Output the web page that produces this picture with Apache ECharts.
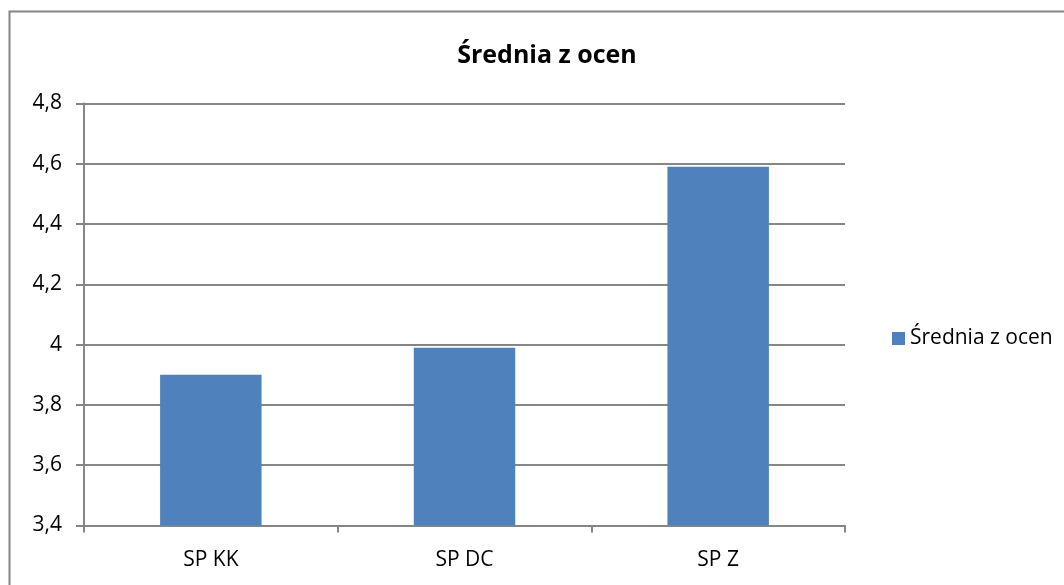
<!DOCTYPE html>
<html>
<head>
<meta charset="utf-8">
<script src="https://cdn.jsdelivr.net/npm/echarts@6/dist/echarts.min.js"></script>
<style>
  html, body { margin: 0; padding: 0; background: #fff; }
  #chart { width: 1064px; height: 585px; }
</style>
</head>
<body>
<div id="chart"></div>
<script>
// dane wykresu
var categories = ['SP KK', 'SP DC', 'SP Z'];
var seriesName = 'Średnia z ocen';
var averages = [3.90, 3.99, 4.59];
var yTicks = { min: 3.4, max: 4.8, step: 0.2 };

var font = '"Open Sans", sans-serif';
var gray = '#868686';

var chart = echarts.init(document.getElementById('chart'));
chart.setOption({
  animation: false,
  graphic: [{
    type: 'rect',
    shape: { x: 9.5, y: 11.5, width: 1100, height: 700 },
    style: { fill: 'none', stroke: gray, lineWidth: 2 },
    silent: true
  }],
  title: {
    text: seriesName,
    left: 542,
    top: 38,
    textAlign: 'center',
    textStyle: { fontFamily: font, fontSize: 25, fontWeight: 'bold', color: '#000' }
  },
  legend: {
    left: 887,
    top: 323,
    itemWidth: 13,
    itemHeight: 13,
    itemGap: 7,
    icon: 'rect',
    textStyle: { fontFamily: font, fontSize: 21, color: '#000' },
    data: [seriesName]
  },
  grid: { left: 84, right: 219, top: 103.5, bottom: 59.5 },
  xAxis: {
    type: 'category',
    data: categories,
    axisLine: { lineStyle: { color: gray, width: 2 } },
    axisTick: { show: true, alignWithLabel: false, length: 7, lineStyle: { color: gray, width: 2 } },
    axisLabel: { margin: 24, fontFamily: font, fontSize: 21, color: '#000' },
    splitLine: { show: false }
  },
  yAxis: {
    type: 'value',
    min: yTicks.min,
    max: yTicks.max,
    interval: yTicks.step,
    axisLine: { show: true, lineStyle: { color: gray, width: 2 } },
    axisTick: { show: true, length: 8, lineStyle: { color: gray, width: 2 } },
    axisLabel: {
      margin: 22,
      fontFamily: font,
      fontSize: 21,
      color: '#000',
      formatter: function (v) {
        var s = (Math.round(v * 10) / 10).toString();
        return s.replace('.', ',');
      }
    },
    splitLine: { lineStyle: { color: gray, width: 2 } }
  },
  series: [{
    name: seriesName,
    type: 'bar',
    data: averages,
    barWidth: '40%',
    itemStyle: { color: '#4F81BD' }
  }]
});
</script>
</body>
</html>
